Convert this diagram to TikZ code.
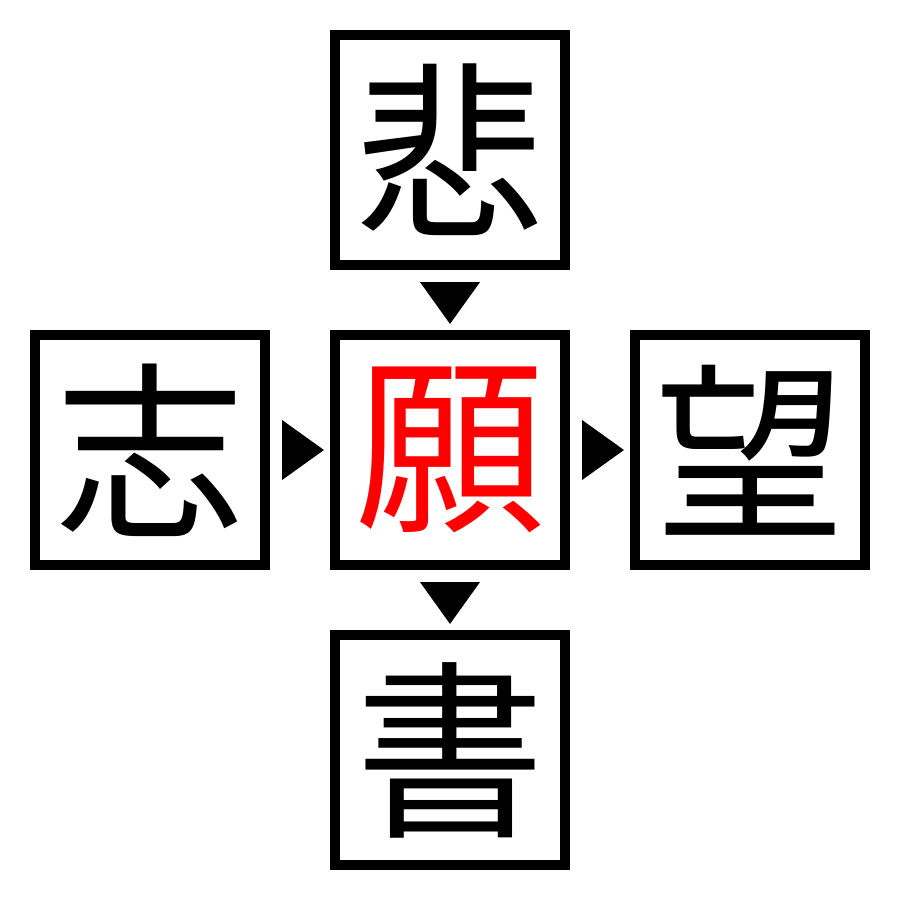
\documentclass[tikz,border=0pt]{standalone}
\usepackage{fontspec}
\newfontfamily\cjk{Noto Sans CJK JP}
\usetikzlibrary{calc}
\tikzstyle{kbox} = [rectangle, minimum size=2.3cm, inner sep=0pt, draw=black, line width=1mm, font=\cjk\fontsize{54pt}{54pt}\selectfont]
\tikzstyle{mark} = [fill=black]

\begin{document}
\begin{tikzpicture}[x=0.01cm, y=-0.01cm]

\useasboundingbox (0,0) rectangle (900,900);

\node (hi) [kbox] at (450,150) {悲};
\node (shi) [kbox] at (150,450) {志};
\node (gan) [kbox, text=red] at (450,450) {願};
\node (bou) [kbox] at (750,450) {望};
\node (sho) [kbox] at (450,750) {書};

\fill [black] ($(hi.south)+(-30,12)$) -- ($(hi.south)+(30,12)$) -- ($(gan.north)+(0,-6)$) -- cycle;
\fill [black] ($(shi.east)+(12,-30)$) -- ($(shi.east)+(12,30)$) -- ($(gan.west)+(-6,0)$) -- cycle;
\fill [black] ($(gan.east)+(12,-30)$) -- ($(gan.east)+(12,30)$) -- ($(bou.west)+(-6,0)$) -- cycle;
\fill [black] ($(gan.south)+(-30,12)$) -- ($(gan.south)+(30,12)$) -- ($(sho.north)+(0,-6)$) -- cycle;

\end{tikzpicture}
\end{document}
